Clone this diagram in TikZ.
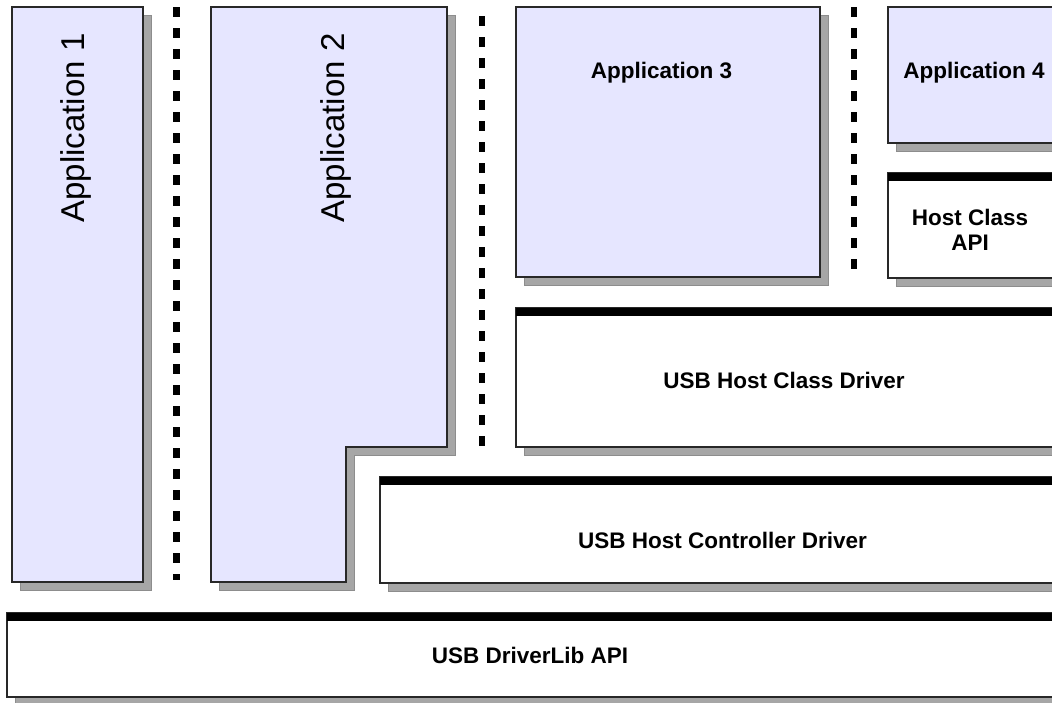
\documentclass[tikz,border=0pt]{standalone}
\usepackage{fontspec}
\setmainfont{Liberation Sans}
\definecolor{lav}{RGB}{230,230,255}
\definecolor{shadowgray}{RGB}{166,166,166}
\definecolor{boxline}{RGB}{40,40,40}
\begin{document}
\begin{tikzpicture}[x=1pt,y=-1pt,
  boxshadow/.style={fill=shadowgray, draw=shadowgray!85!black, line width=0.6pt},
  appbox/.style={fill=lav, draw=boxline, line width=1.1pt},
  whitebox/.style={fill=white, draw=boxline, line width=1.1pt},
  topbar/.style={fill=black},
  sepline/.style={line width=6.5pt, dash pattern=on 10pt off 11pt},
  biglbl/.style={font=\fontsize{33}{40}\selectfont, rotate=90, inner sep=0pt},
  lbl/.style={font=\bfseries\fontsize{22.5}{25}\selectfont, align=center, inner sep=0pt}
]
\useasboundingbox (0,0) rectangle (1052,702);
\clip (0,0) rectangle (1052,702);

% shadows
\fill[boxshadow] (20,15) rectangle (151,590);
\fill[boxshadow] (219,15) -- (455,15) -- (455,455) -- (354,455) -- (354,590) -- (219,590) -- cycle;
\fill[boxshadow] (524,15) rectangle (828,285);
\fill[boxshadow] (896,15) rectangle (1080,151);
\fill[boxshadow] (896,181) rectangle (1080,286);
\fill[boxshadow] (524,316) rectangle (1080,455);
\fill[boxshadow] (388,485) rectangle (1080,591);
\fill[boxshadow] (15,621) rectangle (1080,710);

% application boxes
\path[appbox] (12,7) rectangle (143,582);
\path[appbox] (211,7) -- (447,7) -- (447,447) -- (346,447) -- (346,582) -- (211,582) -- cycle;
\path[appbox] (516,7) rectangle (820,277);
\path[appbox] (888,7) rectangle (1070,143);

% layer boxes
\path[whitebox] (888,173) rectangle (1070,278);
\fill[topbar] (888,173) rectangle (1070,181);
\path[whitebox] (516,308) rectangle (1070,447);
\fill[topbar] (516,308) rectangle (1070,316);
\path[whitebox] (380,477) rectangle (1070,583);
\fill[topbar] (380,477) rectangle (1070,485);
\path[whitebox] (7,613) rectangle (1070,697);
\fill[topbar] (7,613) rectangle (1070,621);

% separators
\draw[sepline] (176.5,7) -- (176.5,580);
\draw[sepline] (482,16) -- (482,447);
\draw[sepline] (854,7) -- (854,277);

% labels
\node[biglbl] (app1) at (76,128) {Application 1};
\node[biglbl] (app2) at (336,128) {Application 2};
\node[lbl, anchor=base] (app3) at (661.5,78) {Application 3};
\node[lbl, anchor=base] (app4) at (974,78) {Application 4};
\node[lbl] (hca) at (970,229.5) {Host Class\\API};
\node[lbl, anchor=base] (hcd) at (784,388) {USB Host Class Driver};
\node[lbl, anchor=base] (hctl) at (722.5,548) {USB Host Controller Driver};
\node[lbl, anchor=base] (dlib) at (530,663) {USB DriverLib API};
\end{tikzpicture}
\end{document}
